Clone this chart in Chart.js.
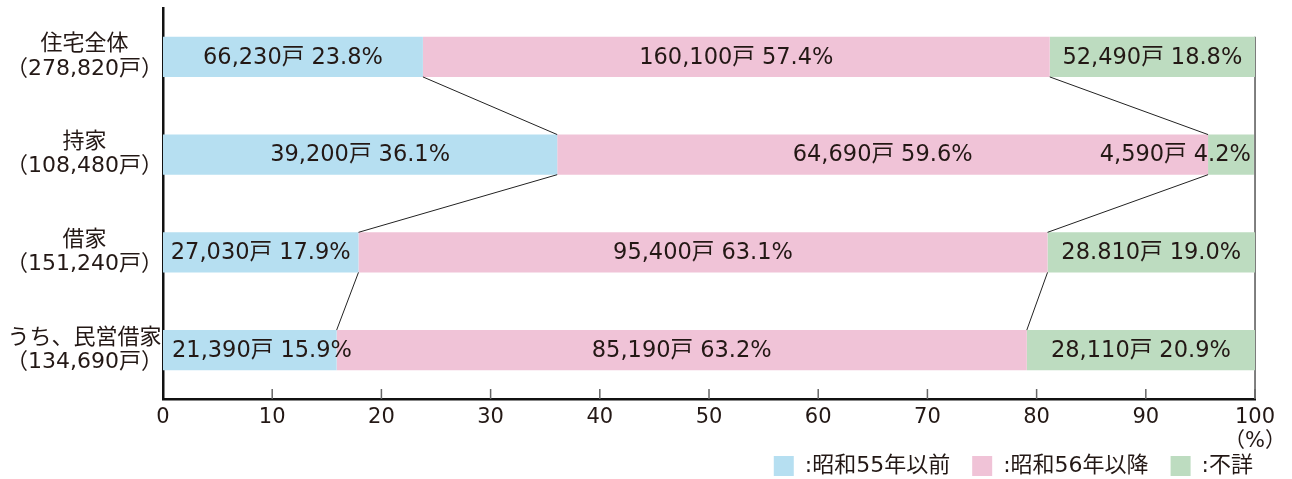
<!DOCTYPE html>
<html>
<head>
<meta charset="utf-8">
<script src="https://cdn.jsdelivr.net/npm/chart.js@4.4.1/dist/chart.umd.min.js"></script>
<style>
  html, body { margin: 0; padding: 0; background: #fff; }
  #c { display: block; }
</style>
</head>
<body>
<canvas id="c" width="1292" height="479"></canvas>
<script>
// Dwellings by construction period (percent share and unit counts)
const categories = [
  ['住宅全体', '（278,820戸）'],
  ['持家', '（108,480戸）'],
  ['借家', '（151,240戸）'],
  ['うち、民営借家', '（134,690戸）']
];
const seriesNames = [':昭和55年以前', ':昭和56年以降', ':不詳'];

const pre1981Pct   = [23.8, 36.1, 17.9, 15.9];
const post1981Pct  = [57.4, 59.6, 63.1, 63.2];
const unknownPct   = [18.8, 4.2, 19.0, 20.9];

const pre1981Units  = ['66,230', '39,200', '27,030', '21,390'];
const post1981Units = ['160,100', '64,690', '95,400', '85,190'];
const unknownUnits  = ['52,490', '4,590', '28.810', '28,110'];

const xTickValues = [0, 10, 20, 30, 40, 50, 60, 70, 80, 90, 100];
const xUnitLabel = '（%）';

const FONT = "'DejaVu Sans', 'Noto Sans CJK JP', sans-serif";
const TEXT = '#231815';
const colors = ['#b6dff1', '#f0c3d7', '#bddcc0'];

const pctSeries = [pre1981Pct, post1981Pct, unknownPct];
const unitSeries = [pre1981Units, post1981Units, unknownUnits];

// connectors between bars, value labels, inward ticks and the 100% guide
const decor = {
  id: 'decor',
  beforeDatasetsDraw(chart) {
    const ctx = chart.ctx;
    const x = chart.scales.x.getPixelForValue(100);
    const first = chart.getDatasetMeta(0).data[0];
    ctx.save();
    ctx.strokeStyle = '#555';
    ctx.lineWidth = 1.5;
    ctx.beginPath();
    ctx.moveTo(x, first.y - first.height / 2);
    ctx.lineTo(x, chart.chartArea.bottom);
    ctx.stroke();
    ctx.restore();
  },
  afterDatasetsDraw(chart) {
    const ctx = chart.ctx;
    ctx.save();
    // connectors at the series boundaries
    ctx.strokeStyle = '#222';
    ctx.lineWidth = 1;
    [0, 1].forEach(d => {
      const bars = chart.getDatasetMeta(d).data;
      for (let i = 0; i < bars.length - 1; i++) {
        const a = bars[i], b = bars[i + 1];
        ctx.beginPath();
        ctx.moveTo(a.x, a.y + a.height / 2);
        ctx.lineTo(b.x, b.y - b.height / 2);
        ctx.stroke();
      }
    });
    // value labels
    ctx.font = '22.5px ' + FONT;
    ctx.fillStyle = TEXT;
    ctx.textBaseline = 'middle';
    const nSets = chart.data.datasets.length;
    chart.data.datasets.forEach((ds, d) => {
      chart.getDatasetMeta(d).data.forEach((el, i) => {
        const txt = unitSeries[d][i] + '戸 ' + pctSeries[d][i].toFixed(1) + '%';
        const left = Math.min(el.base, el.x), right = Math.max(el.base, el.x);
        const tw = ctx.measureText(txt).width;
        if (tw <= right - left - 4) {
          ctx.textAlign = 'center';
          ctx.fillText(txt, (left + right) / 2, el.y + 1);
        } else if (d === 0) {
          ctx.textAlign = 'left';
          ctx.fillText(txt, left + 9, el.y + 1);
        } else if (d === nSets - 1) {
          ctx.textAlign = 'right';
          ctx.fillText(txt, right - 3, el.y + 1);
        } else {
          ctx.textAlign = 'center';
          ctx.fillText(txt, (left + right) / 2, el.y + 1);
        }
      });
    });
    // inward tick marks on the value axis
    const xs = chart.scales.x;
    const bottom = chart.chartArea.bottom;
    ctx.strokeStyle = '#666';
    ctx.lineWidth = 1.5;
    xTickValues.forEach(v => {
      if (v === 0) return;
      const px = xs.getPixelForValue(v);
      ctx.beginPath();
      ctx.moveTo(px, bottom);
      ctx.lineTo(px, bottom - 10);
      ctx.stroke();
    });
    ctx.restore();
  }
};

new Chart(document.getElementById('c'), {
  type: 'bar',
  data: {
    labels: categories,
    datasets: pctSeries.map((vals, d) => ({
      label: seriesNames[d],
      data: vals,
      backgroundColor: colors[d],
      borderWidth: 0,
      barPercentage: 0.41,
      categoryPercentage: 1
    }))
  },
  options: {
    indexAxis: 'y',
    responsive: false,
    animation: false,
    devicePixelRatio: 1,
    layout: { padding: { top: 8, right: 17, left: 0, bottom: -8 } },
    plugins: {
      legend: {
        position: 'bottom',
        align: 'end',
        labels: {
          boxWidth: 20,
          boxHeight: 20,
          padding: 22,
          color: TEXT,
          font: { size: 22, family: FONT }
        }
      },
      tooltip: { enabled: false }
    },
    scales: {
      x: {
        stacked: true,
        min: 0,
        max: 100,
        afterBuildTicks(scale) {
          scale.ticks = xTickValues.map(v => ({ value: v }));
        },
        grid: { display: false, drawTicks: false },
        border: { display: true, color: '#111', width: 2.5 },
        ticks: {
          padding: 6,
          color: TEXT,
          maxRotation: 0,
          font: { size: 21, family: FONT, lineHeight: 1.17 },
          callback: v => (v === 100 ? ['100', xUnitLabel] : String(v))
        },
        afterFit(scale) {
          scale.height = 34;
          // the unit line under "100" runs below the axis box, so keep it unclipped
          scale._computeLabelArea = () => undefined;
        }
      },
      y: {
        stacked: true,
        grid: { display: false, drawTicks: false },
        border: { display: true, color: '#111', width: 2.5 },
        ticks: {
          color: TEXT,
          crossAlign: 'center',
          padding: 0,
          font: { size: 22, family: FONT, lineHeight: 1.1 }
        },
        afterFit(scale) {
          scale.width = 163;
          // category labels sit mid-band, no overhang room needed
          scale.paddingTop = 0;
          scale.paddingBottom = 0;
        }
      },
      // empty spacer on the right so the plot ends where the legend row ends
      yRight: {
        type: 'category',
        position: 'right',
        display: true,
        grid: { display: false, drawTicks: false },
        border: { display: false },
        ticks: { display: false },
        afterFit(scale) { scale.width = 19; }
      }
    }
  },
  plugins: [decor]
});
</script>
</body>
</html>
